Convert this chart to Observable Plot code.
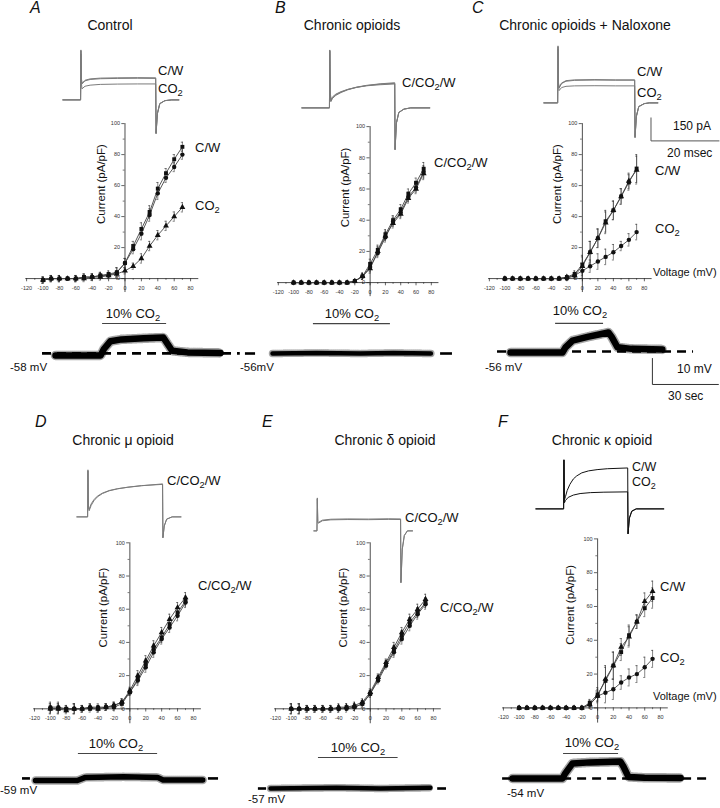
<!DOCTYPE html>
<html><head><meta charset="utf-8">
<script src="https://cdn.jsdelivr.net/npm/d3@7"></script>
<script src="https://cdn.jsdelivr.net/npm/@observablehq/plot@0.6"></script>
<style>
body{margin:0;background:#fff;}
#fig{position:relative;width:720px;height:808px;overflow:hidden;font-family:"Liberation Sans",Arial,sans-serif;color:#111;background:#fff;}
#fig svg{position:absolute;overflow:visible;}
.t{position:absolute;white-space:nowrap;line-height:1;}
.t sub{font-size:72%;vertical-align:baseline;position:relative;top:0.33em;}
</style></head><body><div id="fig"></div>
<script>
// ---------- shared axes ----------
const volts = [-100,-90,-80,-70,-60,-50,-40,-30,-20,-10,0,10,20,30,40,50,60,70];
const xTicks = [-120,-100,-80,-60,-40,-20,0,20,40,60,80];
const xMinor = [-110,-90,-70,-50,-30,-10,10,30,50,70];
const yTicks = [0,20,40,60,80,100];
const yMinor = [10,30,50,70,90];

// ---------- I-V data (pA/pF) ----------
const A_C   = [-1,0,0,0,0,1,1,2,3,4,10,21,32,43,58,68,77,85];
const A_W   = [-1,0,0,0,0,1,1,2,2,4,10,19,29,41,55,65,72,80];
const A_CO2 = [-1,0,0,0,0,0,1,1,2,3,5,8,13,21,28,34,40,46];
const A_eC  = [2,2,2,1,2,2,2,2,2,3,3,3,4,4,4,3,3,3];
const A_eCO2= [2,2,2,1,2,2,2,2,2,2,2,2,3,3,3,3,3,3];

const B_C   = [0,0,0,0,0,0,0,0,1,4,12,21,31,40,47,57,64,73];
const B_CO2 = [0,0,0,0,0,0,0,0,1,4,10,19,29,39,45,55,61,71];
const B_W   = [0,0,0,0,0,0,0,0,1,4,9,20,30,38,44,54,60,70];
const B_e   = [1,1,1,1,1,1,1,1,1,2,3,3,3,3,3,3,3,4];

const C_C   = [0,0,0,0,0,0,0,0,1,3,9,17,26,37,44,53,62,71];
const C_W   = [0,0,0,0,0,0,0,0,1,2,8,17,26,36,44,53,63,70];
const C_CO2 = [0,0,0,0,0,0,0,0,0,2,5,8,11,14,17,21,25,30];
const C_eC  = [1,1,1,1,1,1,1,1,1,2,6,7,6,7,6,5,5,9];
const C_eCO2= [1,1,1,1,1,1,1,1,1,2,4,4,5,5,5,3,4,5];

const D_C   = [0,0,-1,0,0,1,0,1,2,4,11,20,29,38,46,54,61,67];
const D_CO2 = [0,0,0,0,0,0,0,1,1,3,10,18,27,36,43,51,58,65];
const D_W   = [1,1,0,0,0,1,1,1,2,4,10,17,25,34,42,49,56,64];
const D_e   = [3,3,2,3,2,2,2,2,2,2,2,3,3,3,3,3,3,3];

const E_C   = [0,0,0,0,0,0,1,1,2,4,10,19,28,37,46,54,60,66];
const E_CO2 = [0,0,0,0,0,0,0,1,1,3,9,18,27,35,44,52,58,64];
const E_W   = [0,0,0,0,0,0,0,0,1,3,9,17,26,34,42,50,57,63];
const E_e   = [3,3,2,2,2,2,2,2,2,2,2,2,2,3,3,3,3,3];

const F_C   = [0,0,0,0,0,0,0,0,0,2,7,17,25,36,42,51,63,69];
const F_W   = [0,0,0,0,0,0,0,0,0,3,8,16,25,33,43,51,59,65];
const F_CO2 = [0,0,0,0,0,0,0,0,0,2,7,9,11,15,18,20,24,29];
const F_eC  = [1,1,1,1,1,1,1,1,1,2,4,8,8,5,6,4,5,6];
const F_eCO2= [1,1,1,1,1,1,1,1,1,2,3,6,6,4,5,5,6,5];

// ---------- whole-cell current traces [ms, pA] ----------
const A_trC   = [[0,0],[5.2,0],[5.3,326],[5.45,140],[5.6,108],[6.5,128],[8,137],[11,142],[16,144],[22,145],[27.3,144],[27.4,-222],[27.8,-90],[28.5,-25],[30,-5],[32,0],[34.1,0]];
const A_trW   = [[0,0],[5.2,0],[5.3,320],[5.45,135],[5.6,104],[6.5,124],[8,133],[11,138],[16,140],[22,141],[27.3,140],[27.4,-218],[27.8,-88],[28.5,-24],[30,-5],[32,0],[34.1,0]];
const A_trCO2 = [[0,0],[5.2,0],[5.3,300],[5.45,110],[5.6,72],[6.5,89],[8,96],[11,101],[16,103],[22,104],[27.3,104],[27.4,-215],[27.8,-88],[28.5,-25],[30,-5],[32,0],[34.1,0]];

const B_tr1 = [[0,0],[8.1,0],[8.2,378],[8.35,120],[8.5,40],[9,62],[10,82],[11.5,100],[13.5,118],[16,133],[19,145],[23,155],[27.3,160],[27.4,-274],[27.8,-100],[28.5,-30],[30,-8],[32,0],[37.6,0]];
const B_tr2 = [[0,0],[8.1,0],[8.2,370],[8.35,110],[8.5,50],[9,72],[10,90],[11.5,106],[13.5,121],[16,134],[19,144],[23,151],[27.3,156],[27.4,-270],[27.8,-98],[28.5,-30],[30,-8],[32,0],[37.6,0]];
const B_tr3 = [[0,0],[8.1,0],[8.2,374],[8.35,115],[8.5,45],[9,66],[10,86],[11.5,103],[13.5,120],[16,135],[19,147],[23,157],[27.3,164],[27.4,-272],[27.8,-99],[28.5,-30],[30,-8],[32,0],[37.6,0]];

const C_trC   = [[0,0],[4.05,0],[4.15,372],[4.3,130],[4.45,100],[5.2,130],[6.5,145],[9,150],[15,152],[21,150],[26.7,150],[26.8,-228],[27.2,-90],[27.9,-25],[29.5,-5],[31,0],[33.5,0]];
const C_trW   = [[0,0],[4.05,0],[4.15,365],[4.3,125],[4.45,96],[5.2,126],[6.5,141],[9,147],[15,149],[21,148],[26.7,148],[26.8,-224],[27.2,-88],[27.9,-24],[29.5,-5],[31,0],[33.5,0]];
const C_trCO2 = [[0,0],[4.05,0],[4.15,350],[4.3,110],[4.45,80],[5.2,100],[6.5,108],[9,111],[15,112],[21,111],[26.7,111],[26.8,-220],[27.2,-85],[27.9,-24],[29.5,-5],[31,0],[33.5,0]];
const scaleBarCurrent = {pA:150, ms:20, t0:31.5, i0:-98};

const D_tr1 = [[0,0],[3.15,0],[3.25,307],[3.4,60],[3.6,40],[4.2,75],[5,105],[6,130],[7.5,152],[9.5,170],[12,183],[15,193],[19,203],[25.2,215],[25.3,-137],[25.7,-60],[26.4,-15],[28,0],[30.6,0]];
const D_tr2 = [[0,0],[3.15,0],[3.25,300],[3.4,65],[3.6,50],[4.2,85],[5,112],[6,135],[7.5,155],[9.5,172],[12,184],[15,194],[19,204],[25.2,212],[25.3,-135],[25.7,-58],[26.4,-15],[28,0],[30.6,0]];

const E_tr1 = [[0,0],[0.9,0],[1.0,215],[1.15,60],[1.3,55],[2.5,70],[5,76],[10,78],[16,77],[22,79],[25.5,78],[25.6,-340],[26,-120],[26.6,-30],[27.5,0],[29,0]];
const E_tr2 = [[0,0],[0.9,0],[1.0,208],[1.15,55],[1.3,50],[2.5,66],[5,72],[10,74],[16,73],[22,75],[25.5,74],[25.6,-335],[26,-118],[26.6,-30],[27.5,0],[29,0]];

const F_trCW  = [[0,0],[8.15,0],[8.25,320],[8.4,60],[8.7,80],[9.2,120],[10,160],[11,195],[12,215],[13.5,235],[15.5,248],[18,256],[21,262],[27,267],[27.1,-163],[27.5,-60],[28.2,-15],[29.5,0],[37.6,0]];
const F_trCO2 = [[0,0],[8.15,0],[8.25,320],[8.4,40],[8.7,55],[9.5,75],[11,90],[13,100],[16,106],[20,109],[27,111],[27.1,-163],[27.5,-60],[28.2,-15],[29.5,0],[37.6,0]];

// ---------- membrane potential traces [s, mV relative to rest] ----------
const A_vm = [[0,0],[20.5,0],[22,2.5],[25,5.5],[30,6.2],[40,6.6],[49,6.9],[50.5,5],[53,1.8],[60,1.2],[75,1]];
const B_vm = [[0,0],[20,0.2],[40,0],[55,0.2],[72,0]];
const C_vm = [[0,0],[23.6,0],[25,2],[28.2,4.6],[35,6],[44.5,7.7],[46,6],[48.6,2],[55,1.4],[69,1.2]];
const D_vm = [[0,0],[19,0],[22.7,1.2],[40,1.4],[55.5,1.2],[58,0.2],[76,0.2]];
const E_vm = [[0,0],[30,0.3],[50,0],[72.7,0.3]];
const F_vm = [[0,0],[22.7,0],[24,2],[27.3,5.8],[35,6.2],[49,6.5],[50.5,4.5],[52.7,0.6],[60,0.3],[76.4,0.2]];
const co2Periods = {A:[21.4,50.5], B:[18.6,53.6], C:[20.5,42.3], D:[19.5,55.5], E:[21.8,58], F:[23.2,48.2]};
const restPotentials = {A:"-58 mV", B:"-56mV", C:"-56 mV", D:"-59 mV", E:"-57 mV", F:"-54 mV"};
const scaleBarVoltage = {mV:10, s:30, t0:64.5, v0:-2.3};

// ---------- helpers ----------
const fig = document.getElementById('fig');
function txt(html, x, base, size, anchor, extra){
  const d = document.createElement('div'); d.className='t';
  d.innerHTML = html;
  d.style.left = x+'px'; d.style.top = (base - 0.86*size)+'px'; d.style.fontSize = size+'px';
  if(anchor==='middle') d.style.transform='translateX(-50%)';
  if(anchor==='end') d.style.transform='translateX(-100%)';
  if(extra) d.style.cssText += extra;
  fig.appendChild(d);
}
function place(spec, marks){
  const {x0,y0,kx,ky,xd,yd} = spec;
  const w = kx*(xd[1]-xd[0]), h = ky*(yd[1]-yd[0]);
  const svg = Plot.plot({width:w, height:h, margin:0,
    x:{domain:xd, range:[0,w], axis:null}, y:{domain:yd, range:[h,0], axis:null},
    style:{background:'transparent', overflow:'visible', fontFamily:'"Liberation Sans",Arial,sans-serif'}, marks});
  svg.style.position='absolute';
  svg.style.left = (x0 + kx*xd[0])+'px';
  svg.style.top = (y0 - ky*yd[1])+'px';
  fig.appendChild(svg);
}
function ivPlot(g, series, labelDx){
  const tl = 3.2;
  const marks = [
    Plot.ruleY([0], {x1:-121, x2:90, stroke:'#222', strokeWidth:0.8}),
    Plot.ruleX([0], {y1:-9, y2:100, stroke:'#222', strokeWidth:0.8}),
    Plot.ruleX(xTicks, {x:d=>d, y1:0, y2:-tl/g.ky, stroke:'#222', strokeWidth:0.7}),
    Plot.ruleX(xMinor, {x:d=>d, y1:0, y2:-1.8/g.ky, stroke:'#222', strokeWidth:0.6}),
    Plot.text(xTicks, {x:d=>d, y:0, dy:9.5, text:d=>String(d), fontSize:5.5, fill:'#333'}),
    Plot.ruleY(yTicks, {y:d=>d, x1:0, x2:-tl/g.kx, stroke:'#222', strokeWidth:0.7}),
    Plot.ruleY(yMinor, {y:d=>d, x1:0, x2:-1.8/g.kx, stroke:'#222', strokeWidth:0.6}),
    Plot.text(yTicks, {y:d=>d, x:0, dx:-5, textAnchor:'end', text:d=>String(d), fontSize:5.5, fill:'#333'}),
    Plot.text(['Current (pA/pF)'], {x:0, y:61, dx:labelDx, rotate:-90, fontSize:11.5, fill:'#111'})
  ];
  for(const s of series){
    const data = volts.map((v,i)=>({v, y:s.vals[i], e:s.err[i]}));
    marks.push(Plot.line(data, {x:'v', y:'y', stroke:'#444', strokeWidth:0.9}));
    marks.push(Plot.ruleX(data, {x:'v', y1:d=>d.y-d.e, y2:d=>d.y+d.e, stroke:'#333', strokeWidth:0.6}));
    marks.push(Plot.ruleY(data, {y:d=>d.y+d.e, x1:d=>d.v-1.3, x2:d=>d.v+1.3, stroke:'#333', strokeWidth:0.6}));
    marks.push(Plot.ruleY(data, {y:d=>d.y-d.e, x1:d=>d.v-1.3, x2:d=>d.v+1.3, stroke:'#333', strokeWidth:0.6}));
  }
  for(const s of series){
    const data = volts.map((v,i)=>({v, y:s.vals[i]}));
    marks.push(Plot.dot(data, {x:'v', y:'y', symbol:s.symbol, r:2.2, fill:'#111', stroke:'none'}));
  }
  place({...g, xd:[-125,92], yd:[-12,102]}, marks);
}
const KT = 3.4, KI = 0.1533; // px per ms, px per pA
function curPlot(g, lines, stroke, extra){
  const marks = lines.map(l => Plot.line(l, {x:d=>d[0], y:d=>d[1], stroke, strokeWidth:1, strokeLinejoin:'round'}));
  place({x0:g.x0, y0:g.y0, kx:KT, ky:KI, xd:g.xd, yd:[-400,420]}, marks.concat(extra||[]));
}
const KS = 2.2, KV = 2.6; // px per s, px per mV
function vPlot(g, trace, period, barY, sw, dashed, extra){
  const marks = [];
  for(const seg of dashed.segs){
    marks.push(Plot.ruleY([dashed.y], {x1:seg[0], x2:seg[1], stroke:'#000', strokeWidth:2.6, strokeDasharray:dashed.dash||null}));
  }
  marks.push(Plot.line(trace, {x:d=>d[0], y:d=>d[1], stroke:'#000', strokeWidth:sw, strokeLinejoin:'round'}));
  marks.push(Plot.line(trace, {x:d=>d[0], y:d=>d[1], stroke:'#000', strokeOpacity:0.35, strokeWidth:sw+3, strokeDasharray:'0.6,1.4', strokeLinejoin:'round'}));
  marks.push(Plot.ruleY([barY], {x1:period[0], x2:period[1], stroke:'#444', strokeWidth:1.1}));
  place({x0:g.x0, y0:g.y0, kx:KS, ky:KV, xd:[-20,100], yd:[-15,15]}, marks.concat(extra||[]));
}
const CO2 = 'CO<sub>2</sub>';

// ---------- panel letters & titles ----------
const it = 'font-style:italic;';
txt('A', 30, 14, 16, 'start', it);
txt('B', 275, 14, 16, 'start', it);
txt('C', 472, 14, 16, 'start', it);
txt('D', 35, 428, 16, 'start', it);
txt('E', 262, 428, 16, 'start', it);
txt('F', 498, 428, 16, 'start', it);
txt('Control', 110, 30, 14, 'middle');
txt('Chronic opioids', 352, 30, 14, 'middle');
txt('Chronic opioids + Naloxone', 585, 30, 14, 'middle');
txt('Chronic μ opioid', 123, 445, 14, 'middle');
txt('Chronic δ opioid', 385, 445, 14, 'middle');
txt('Chronic κ opioid', 602, 445, 14, 'middle');

// ---------- current traces ----------
const grey = '#7a7a7a';
curPlot({x0:62, y0:99, xd:[-1,36]}, [A_trCO2, A_trW, A_trC], grey);
curPlot({x0:301, y0:107, xd:[-1,39]}, [B_tr1, B_tr2, B_tr3], grey);
const sb = scaleBarCurrent;
curPlot({x0:543, y0:102, xd:[-1,54]}, [C_trCO2, C_trW, C_trC], grey, [
  Plot.line([[sb.t0, sb.i0],[sb.t0, sb.i0-sb.pA],[sb.t0+sb.ms, sb.i0-sb.pA]], {x:d=>d[0], y:d=>d[1], stroke:'#555', strokeWidth:1})
]);
curPlot({x0:76, y0:516, xd:[-1,32]}, [D_tr1, D_tr2], grey);
curPlot({x0:313, y0:530, xd:[-1,30]}, [E_tr1, E_tr2], grey);
curPlot({x0:535, y0:508, xd:[-1,39]}, [F_trCO2, F_trCW], '#111');

txt('C/W', 158, 75, 13); txt(CO2, 158, 93, 13);
txt('C/'+CO2+'/W', 402, 87, 13);
txt('C/W', 637, 76, 13); txt(CO2, 637, 97, 13);
txt('150 pA', 673, 130, 12); txt('20 msec', 667, 157, 12);
txt('C/'+CO2+'/W', 167, 485, 13);
txt('C/'+CO2+'/W', 405, 522, 13);
txt('C/W', 632, 472, 12.5); txt(CO2, 632, 487, 12.5);

// ---------- I-V plots ----------
ivPlot({x0:124, y0:278, kx:0.82, ky:1.55}, [
  {vals:A_CO2, err:A_eCO2, symbol:'triangle'},
  {vals:A_W, err:A_eC, symbol:'circle'},
  {vals:A_C, err:A_eC, symbol:'square'}], -24);
ivPlot({x0:370, y0:282, kx:0.765, ky:1.56}, [
  {vals:B_W, err:B_e, symbol:'triangle'},
  {vals:B_CO2, err:B_e, symbol:'circle'},
  {vals:B_C, err:B_e, symbol:'square'}], -25);
ivPlot({x0:582, y0:278, kx:0.775, ky:1.55}, [
  {vals:C_CO2, err:C_eCO2, symbol:'circle'},
  {vals:C_W, err:C_eC, symbol:'triangle'},
  {vals:C_C, err:C_eC, symbol:'square'}], -25);
ivPlot({x0:129, y0:708, kx:0.795, ky:1.66}, [
  {vals:D_W, err:D_e, symbol:'circle'},
  {vals:D_CO2, err:D_e, symbol:'square'},
  {vals:D_C, err:D_e, symbol:'triangle'}], -27);
ivPlot({x0:370, y0:708, kx:0.79, ky:1.66}, [
  {vals:E_W, err:E_e, symbol:'circle'},
  {vals:E_CO2, err:E_e, symbol:'square'},
  {vals:E_C, err:E_e, symbol:'triangle'}], -27);
ivPlot({x0:597, y0:707, kx:0.785, ky:1.69}, [
  {vals:F_CO2, err:F_eCO2, symbol:'circle'},
  {vals:F_W, err:F_eC, symbol:'square'},
  {vals:F_C, err:F_eC, symbol:'triangle'}], -27);

txt('C/W', 195, 152, 13); txt(CO2, 195, 210, 13);
txt('C/'+CO2+'/W', 434, 167, 13);
txt('C/W', 655, 175, 13); txt(CO2, 655, 233, 13);
txt('Voltage (mV)', 653, 276, 11);
txt('C/'+CO2+'/W', 198, 590, 13);
txt('C/'+CO2+'/W', 440, 612, 13);
txt('C/W', 660, 591, 13); txt(CO2, 660, 662, 13);
txt('Voltage (mV)', 653, 700, 11);

// ---------- membrane potential traces ----------
const P = co2Periods;
vPlot({x0:55, y0:355}, A_vm, P.A, 12.3, 6.5, {y:0.8, segs:[[-5.9,84]], dash:'9,6'});
vPlot({x0:272, y0:353}, B_vm, P.B, 11.5, 4.5, {y:0, segs:[[-12.3,-7.7],[76.4,81.8]]});
const vb = scaleBarVoltage;
vPlot({x0:510, y0:352}, C_vm, P.C, 11.2, 6.5, {y:0.4, segs:[[-5.9,83.2]], dash:'9,6'}, [
  Plot.line([[vb.t0, vb.v0],[vb.t0, vb.v0-vb.mV],[vb.t0+vb.s, vb.v0-vb.mV]], {x:d=>d[0], y:d=>d[1], stroke:'#333', strokeWidth:1})
]);
vPlot({x0:35, y0:780}, D_vm, P.D, 10.4, 5.5, {y:0.8, segs:[[-5.9,-2.3],[78.6,83.2]]});
vPlot({x0:270, y0:788}, E_vm, P.E, 11.9, 4.5, {y:0, segs:[[-5.5,-1.8],[76,80]]});
vPlot({x0:512, y0:778}, F_vm, P.F, 9.6, 6.5, {y:0, segs:[[-4.5,88.6]], dash:'9,6'});

const R = restPotentials;
txt('10% '+CO2, 133, 318, 13, 'middle'); txt(R.A, 10, 372, 11.5);
txt('10% '+CO2, 352, 318, 13, 'middle'); txt(R.B, 240, 372, 11.5);
txt('10% '+CO2, 580, 315, 13, 'middle'); txt(R.C, 485, 372, 11.5);
txt('10 mV', 677, 373, 12); txt('30 sec', 668, 400, 12);
txt('10% '+CO2, 116, 748, 13, 'middle'); txt(R.D, 0, 795, 11.5);
txt('10% '+CO2, 358, 752, 13, 'middle'); txt(R.E, 248, 804, 11.5);
txt('10% '+CO2, 592, 747, 13, 'middle'); txt(R.F, 507, 798, 11.5);
</script></body></html>
